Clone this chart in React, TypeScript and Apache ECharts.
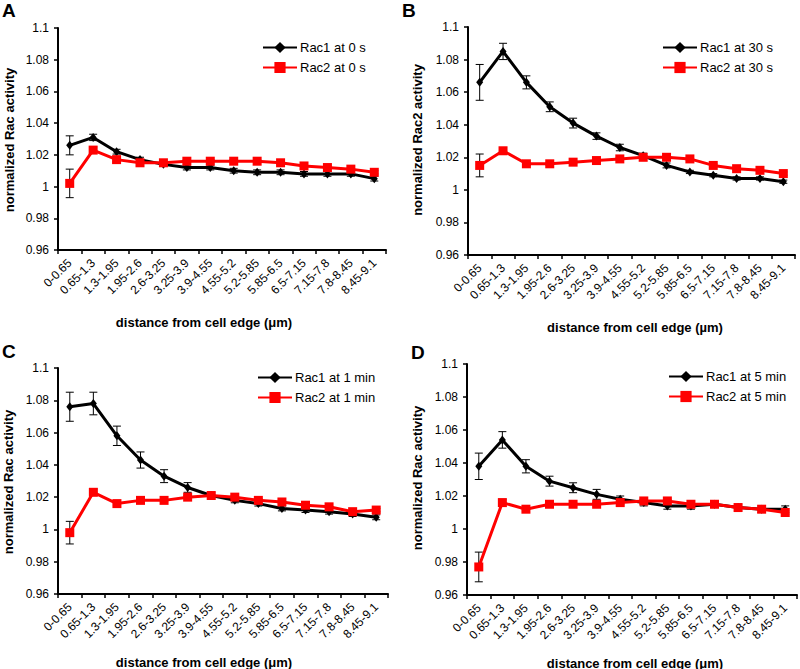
import React, { useEffect, useRef } from "react";
import * as echarts from "echarts";

const categories = [
  "0-0.65", "0.65-1.3", "1.3-1.95", "1.95-2.6", "2.6-3.25", "3.25-3.9", "3.9-4.55",
  "4.55-5.2", "5.2-5.85", "5.85-6.5", "6.5-7.15", "7.15-7.8", "7.8-8.45", "8.45-9.1",
];

const yTickMin = 0.96;
const yTickMax = 1.1;
const yTickStep = 0.02;

// Panel A (0 s)
const rac1At0s = [1.026, 1.031, 1.022, 1.017, 1.014, 1.012, 1.012, 1.010, 1.009, 1.009, 1.008, 1.008, 1.008, 1.005];
const rac1At0sErr = [0.006, 0.002, 0.0015, 0.0015, 0.001, 0.0015, 0.0015, 0.0015, 0.0015, 0.0015, 0.0015, 0.0015, 0.0015, 0.0015];
const rac2At0s = [1.002, 1.023, 1.017, 1.015, 1.015, 1.016, 1.016, 1.016, 1.016, 1.015, 1.013, 1.012, 1.011, 1.009];
const rac2At0sErr = [0.009, 0.002, 0.0015, 0.0015, 0.001, 0.001, 0.001, 0.001, 0.001, 0.001, 0.001, 0.001, 0.001, 0.001];

// Panel B (30 s)
const rac1At30s = [1.066, 1.085, 1.066, 1.051, 1.041, 1.033, 1.026, 1.021, 1.015, 1.011, 1.009, 1.007, 1.007, 1.005];
const rac1At30sErr = [0.011, 0.005, 0.004, 0.003, 0.003, 0.002, 0.002, 0.0015, 0.0015, 0.001, 0.001, 0.001, 0.001, 0.001];
const rac2At30s = [1.015, 1.024, 1.016, 1.016, 1.017, 1.018, 1.019, 1.020, 1.020, 1.019, 1.015, 1.013, 1.012, 1.010];
const rac2At30sErr = [0.007, 0.002, 0.001, 0.001, 0.001, 0.001, 0.001, 0.001, 0.001, 0.001, 0.001, 0.001, 0.001, 0.001];

// Panel C (1 min)
const rac1At1min = [1.076, 1.078, 1.058, 1.043, 1.033, 1.026, 1.021, 1.018, 1.016, 1.013, 1.012, 1.011, 1.0095, 1.0075];
const rac1At1minErr = [0.009, 0.007, 0.006, 0.005, 0.004, 0.003, 0.002, 0.0015, 0.0015, 0.0015, 0.0015, 0.0015, 0.0015, 0.0015];
const rac2At1min = [0.998, 1.023, 1.016, 1.018, 1.018, 1.020, 1.021, 1.020, 1.018, 1.017, 1.015, 1.014, 1.011, 1.012];
const rac2At1minErr = [0.007, 0.002, 0.001, 0.001, 0.001, 0.001, 0.001, 0.001, 0.001, 0.001, 0.001, 0.001, 0.001, 0.001];

// Panel D (5 min)
const rac1At5min = [1.038, 1.054, 1.038, 1.029, 1.025, 1.021, 1.018, 1.016, 1.014, 1.014, 1.015, 1.013, 1.012, 1.012];
const rac1At5minErr = [0.008, 0.005, 0.004, 0.003, 0.003, 0.003, 0.002, 0.002, 0.002, 0.002, 0.002, 0.002, 0.002, 0.002];
const rac2At5min = [0.977, 1.016, 1.012, 1.015, 1.015, 1.015, 1.016, 1.017, 1.017, 1.015, 1.015, 1.013, 1.012, 1.010];
const rac2At5minErr = [0.009, 0.002, 0.001, 0.001, 0.001, 0.001, 0.001, 0.001, 0.001, 0.001, 0.001, 0.001, 0.001, 0.001];

const FONT = "'Liberation Sans', Arial, Helvetica, sans-serif";
const RED = "#ff0000";

type Panel = {
  letter: string;
  grid: { left: number; top: number; width: number; height: number };
  legendPos: { left: number; top: number };
  letterPos: [number, number];
  yTitle: string;
  yTitlePos: [number, number];
  xTitle: string;
  xTitlePos: [number, number];
  rac1Name: string;
  rac2Name: string;
  rac1: number[];
  rac1Err: number[];
  rac2: number[];
  rac2Err: number[];
};

const panels: Panel[] = [
  {
    letter: "A",
    grid: { left: 58, top: 28, width: 328, height: 222 },
    legendPos: { left: 262, top: 41 },
    letterPos: [2, 1],
    yTitle: "normalized Rac activity",
    yTitlePos: [9, 140],
    xTitle: "distance from cell edge (\u03bcm)",
    xTitlePos: [204, 322],
    rac1Name: "Rac1 at 0 s",
    rac2Name: "Rac2 at 0 s",
    rac1: rac1At0s,
    rac1Err: rac1At0sErr,
    rac2: rac2At0s,
    rac2Err: rac2At0sErr,
  },
  {
    letter: "B",
    grid: { left: 468, top: 27, width: 327, height: 228 },
    legendPos: { left: 662, top: 41 },
    letterPos: [402, 1],
    yTitle: "normalized Rac2 activity",
    yTitlePos: [417, 140],
    xTitle: "distance from cell edge (\u00b5m)",
    xTitlePos: [635, 327],
    rac1Name: "Rac1 at 30 s",
    rac2Name: "Rac2 at 30 s",
    rac1: rac1At30s,
    rac1Err: rac1At30sErr,
    rac2: rac2At30s,
    rac2Err: rac2At30sErr,
  },
  {
    letter: "C",
    grid: { left: 58, top: 368, width: 330, height: 226 },
    legendPos: { left: 257, top: 371 },
    letterPos: [2, 342],
    yTitle: "normalized Rac activity",
    yTitlePos: [8, 482],
    xTitle: "distance from cell edge (\u03bcm)",
    xTitlePos: [204, 662],
    rac1Name: "Rac1 at 1 min",
    rac2Name: "Rac2 at 1 min",
    rac1: rac1At1min,
    rac1Err: rac1At1minErr,
    rac2: rac2At1min,
    rac2Err: rac2At1minErr,
  },
  {
    letter: "D",
    grid: { left: 467, top: 364, width: 330, height: 231 },
    legendPos: { left: 668, top: 370 },
    letterPos: [411, 343],
    yTitle: "normalized Rac activity",
    yTitlePos: [417, 478],
    xTitle: "distance from cell edge (\u03bcm)",
    xTitlePos: [635, 663],
    rac1Name: "Rac1 at 5 min",
    rac2Name: "Rac2 at 5 min",
    rac1: rac1At5min,
    rac1Err: rac1At5minErr,
    rac2: rac2At5min,
    rac2Err: rac2At5minErr,
  },
];

function errorBarSeries(name: string, idx: number, values: number[], errs: number[]) {
  return {
    type: "custom",
    name,
    xAxisIndex: idx,
    yAxisIndex: idx,
    z: 1,
    silent: true,
    encode: { x: 0, y: 1 },
    data: values.map((v, i) => [i, v, errs[i]]),
    renderItem: (params: any, api: any) => {
      const x = api.value(0);
      const v = api.value(1);
      const e = api.value(2);
      const top = api.coord([x, v + e]);
      const bot = api.coord([x, v - e]);
      const hw = 4;
      const style = { stroke: "#000", lineWidth: 1 };
      return {
        type: "group",
        children: [
          { type: "line", shape: { x1: top[0], y1: top[1], x2: bot[0], y2: bot[1] }, style },
          { type: "line", shape: { x1: top[0] - hw, y1: top[1], x2: top[0] + hw, y2: top[1] }, style },
          { type: "line", shape: { x1: bot[0] - hw, y1: bot[1], x2: bot[0] + hw, y2: bot[1] }, style },
        ],
      };
    },
  };
}

function fmtTick(v: number) {
  return String(parseFloat(v.toFixed(2)));
}

export default function App() {
  const ref = useRef<HTMLDivElement>(null);

  useEffect(() => {
    document.body.style.margin = "0";
    if (!ref.current) return;
    const chart = echarts.init(ref.current, undefined, { renderer: "svg" });

    const grid: any[] = [];
    const xAxis: any[] = [];
    const yAxis: any[] = [];
    const legend: any[] = [];
    const series: any[] = [];
    const graphic: any[] = [];

    panels.forEach((p, idx) => {
      grid.push({ ...p.grid, containLabel: false });
      xAxis.push({
        type: "category",
        gridIndex: idx,
        data: categories,
        boundaryGap: true,
        axisLine: { lineStyle: { color: "#000", width: 2 } },
        axisTick: { show: true, length: 4, lineStyle: { color: "#000", width: 1.5 }, alignWithLabel: false },
        axisLabel: {
          interval: 0,
          rotate: 45,
          margin: 11,
          color: "#000",
          fontSize: 12,
          fontFamily: FONT,
        },
        splitLine: { show: false },
      });
      yAxis.push({
        type: "value",
        gridIndex: idx,
        min: yTickMin,
        max: yTickMax,
        interval: yTickStep,
        axisLine: { show: true, lineStyle: { color: "#000", width: 2 } },
        axisTick: { show: true, length: 4, lineStyle: { color: "#000", width: 1.5 } },
        axisLabel: {
          color: "#000",
          fontSize: 12,
          fontFamily: FONT,
          margin: 9,
          formatter: (v: number) => fmtTick(v),
        },
        splitLine: { show: false },
      });
      legend.push({
        orient: "vertical",
        left: p.legendPos.left,
        top: p.legendPos.top,
        padding: 0,
        itemWidth: 34,
        itemHeight: 14,
        itemGap: 7,
        data: [p.rac1Name, p.rac2Name],
        textStyle: { color: "#000", fontSize: 13, fontFamily: FONT, padding: [0, 0, 0, -2] },
      });
      series.push(errorBarSeries(p.letter + "-err1", idx, p.rac1, p.rac1Err));
      series.push(errorBarSeries(p.letter + "-err2", idx, p.rac2, p.rac2Err));
      series.push({
        type: "line",
        name: p.rac1Name,
        xAxisIndex: idx,
        yAxisIndex: idx,
        data: p.rac1,
        z: 3,
        symbol: "diamond",
        symbolSize: [7, 9],
        itemStyle: { color: "#000" },
        lineStyle: { color: "#000", width: 3 },
      });
      series.push({
        type: "line",
        name: p.rac2Name,
        xAxisIndex: idx,
        yAxisIndex: idx,
        data: p.rac2,
        z: 4,
        symbol: "rect",
        symbolSize: 9,
        itemStyle: { color: RED },
        lineStyle: { color: RED, width: 3 },
      });
      graphic.push({
        type: "text",
        x: p.letterPos[0],
        y: p.letterPos[1],
        style: { text: p.letter, fontSize: 19, fontWeight: "bold", fontFamily: FONT, fill: "#000", align: "left", verticalAlign: "top" },
      });
      graphic.push({
        type: "text",
        x: p.yTitlePos[0],
        y: p.yTitlePos[1],
        rotation: Math.PI / 2,
        style: { text: p.yTitle, fontSize: 13, fontWeight: "bold", fontFamily: FONT, fill: "#000", align: "center", verticalAlign: "middle" },
      });
      graphic.push({
        type: "text",
        x: p.xTitlePos[0],
        y: p.xTitlePos[1],
        style: { text: p.xTitle, fontSize: 13, fontWeight: "bold", fontFamily: FONT, fill: "#000", align: "center", verticalAlign: "middle" },
      });
    });

    chart.setOption({
      animation: false,
      backgroundColor: "#fff",
      grid,
      xAxis,
      yAxis,
      legend,
      series,
      graphic,
    });

    return () => {
      chart.dispose();
    };
  }, []);

  return (
    <div
      ref={ref}
      style={{ position: "absolute", left: 0, top: 0, width: 800, height: 669 }}
    />
  );
}
